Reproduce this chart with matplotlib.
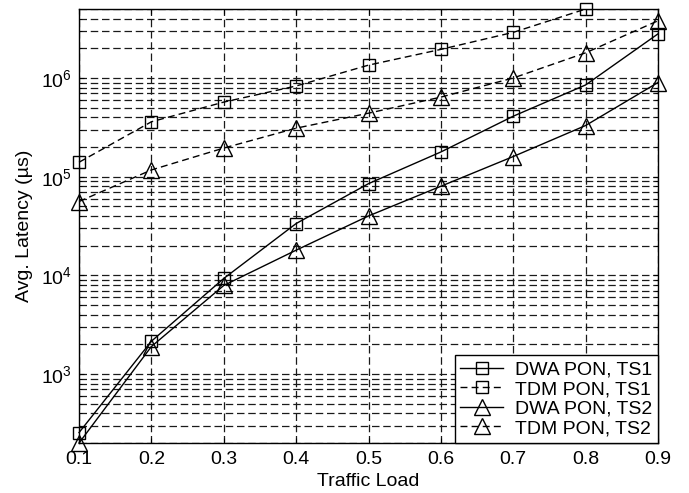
import matplotlib.pyplot as plt
from matplotlib.ticker import LogLocator, NullFormatter

plt.rcParams['font.family'] = ['Liberation Sans', 'DejaVu Sans']

load = [0.1, 0.2, 0.3, 0.4, 0.5, 0.6, 0.7, 0.8, 0.9]
dwa_ts1 = [255, 2150, 9300, 33500, 85000, 178000, 410000, 850000, 2.8e6]
tdm_ts1 = [1.4e5, 3.6e5, 5.7e5, 8.3e5, 1.35e6, 1.95e6, 2.9e6, 5.0e6]
dwa_ts2 = [200, 1900, 7900, 18000, 40000, 80000, 160000, 330000, 9.0e5]
tdm_ts2 = [5.6e4, 1.17e5, 1.95e5, 3.1e5, 4.4e5, 6.4e5, 1.0e6, 1.8e6, 3.8e6]

fig = plt.figure(figsize=(6.89, 4.93), dpi=100)
ax = fig.add_axes([0.1147, 0.1014, 0.8403, 0.8803])

ls_dash = (0, (5, 3))
ax.plot(load, dwa_ts1, '-', color='k', lw=1, marker='s', ms=9, mfc='none', mec='k',
        clip_on=False, zorder=5, label='DWA PON, TS1')
ax.plot(load[:len(tdm_ts1)], tdm_ts1, linestyle=ls_dash, color='k', lw=1, marker='s', ms=9,
        mfc='none', mec='k', clip_on=False, zorder=5, label='TDM PON, TS1')
ax.plot(load, dwa_ts2, '-', color='k', lw=1, marker='^', ms=11, mfc='none', mec='k',
        clip_on=False, zorder=5, label='DWA PON, TS2')
ax.plot(load, tdm_ts2, linestyle=ls_dash, color='k', lw=1, marker='^', ms=11,
        mfc='none', mec='k', clip_on=False, zorder=5, label='TDM PON, TS2')

ax.set_yscale('log')
ax.set_xlim(0.1, 0.9)
ax.set_ylim(200, 5e6)
ax.set_xticks(load)
ax.set_xticklabels(['%.1f' % v for v in load])
ax.yaxis.set_major_locator(LogLocator(base=10, numticks=10))
ax.yaxis.set_minor_locator(LogLocator(base=10, subs=range(2, 10), numticks=20))
ax.yaxis.set_minor_formatter(NullFormatter())

grid_ls = (0, (6, 3))
ax.grid(True, which='both', axis='y', linestyle=grid_ls, color='#1a1a1a', lw=0.9)
ax.grid(True, which='major', axis='x', linestyle=grid_ls, color='#1a1a1a', lw=0.9)
ax.tick_params(which='both', direction='in', labelsize=14, top=True, right=True)
ax.tick_params(axis='x', pad=6)
ax.tick_params(axis='y', pad=5)
for s in ax.spines.values():
    s.set_linewidth(1)

ax.set_xlabel('Traffic Load', fontsize=14, labelpad=3)
ax.set_ylabel('Avg. Latency (µs)', fontsize=14, labelpad=6)

leg = ax.legend(loc='lower right', fontsize=14, frameon=True, fancybox=False,
                edgecolor='k', framealpha=1, borderaxespad=0, handlelength=2.2,
                labelspacing=0.1, borderpad=0.3, handletextpad=0.6)
leg.get_frame().set_linewidth(1)

fig.savefig('out.png', dpi=100)
